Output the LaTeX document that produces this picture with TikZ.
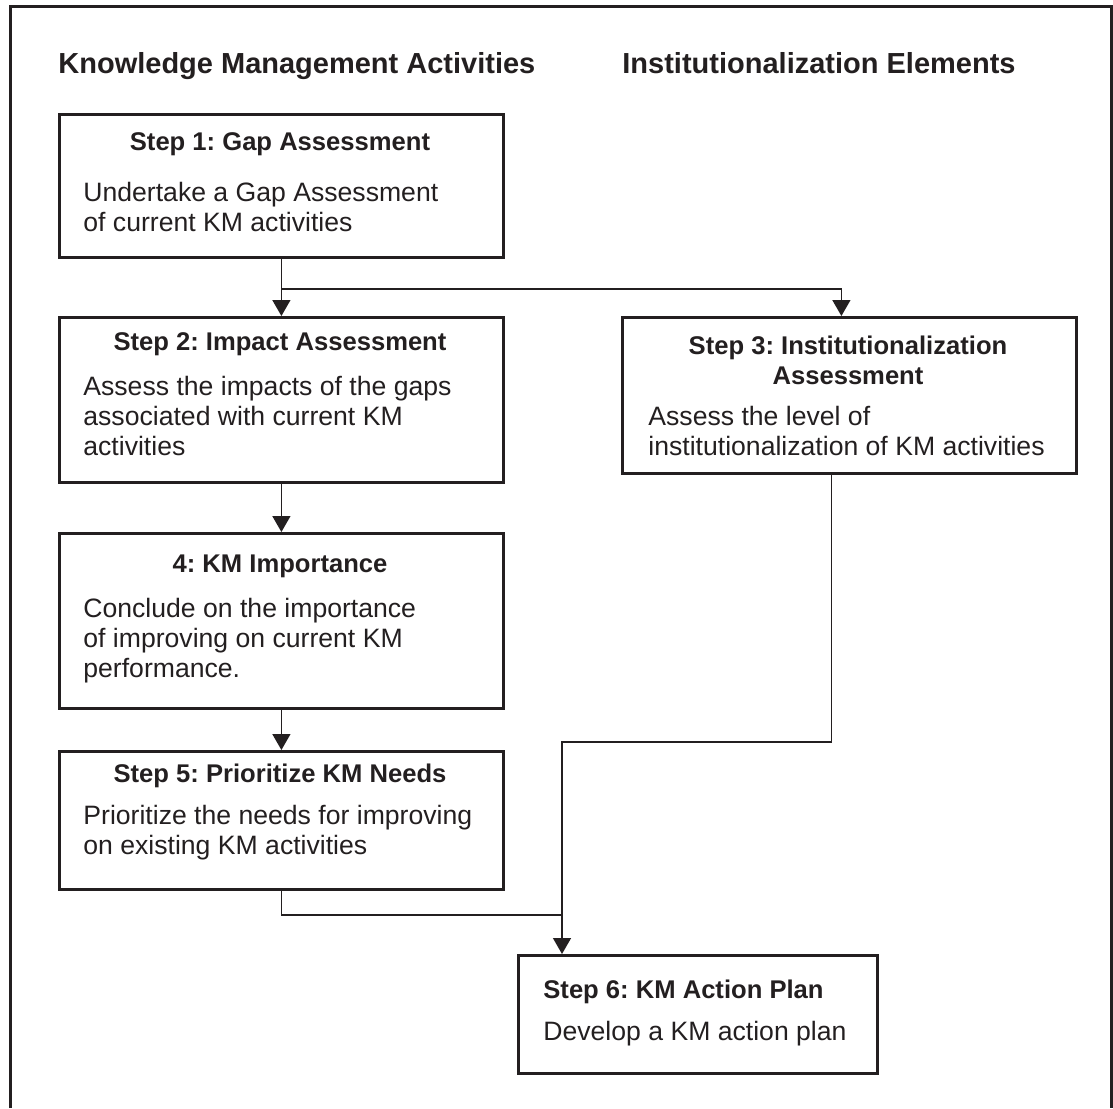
\documentclass[tikz,border=0pt]{standalone}
\usepackage{fontspec}
\setmainfont{Liberation Sans}
\usetikzlibrary{arrows.meta,calc}
\definecolor{ink}{HTML}{231F20}
\frenchspacing
\begin{document}
\begin{tikzpicture}[x=0.5pt,y=-0.5pt,
  box/.style={draw=ink, line width=1.4pt, anchor=north west, inner sep=0pt, minimum width=222pt},
  head/.style={anchor=base west, font=\fontsize{14.5}{17}\selectfont\bfseries, text=ink, inner sep=0pt},
  ttl/.style={anchor=base, font=\fontsize{12.8}{15}\selectfont\bfseries, text=ink, inner sep=0pt},
  body/.style={anchor=base west, font=\fontsize{13.3}{15}\selectfont, text=ink, inner sep=0pt},
  link/.style={draw=ink, line width=0.7pt},
  arr/.style={link, -{Triangle[length=8pt,width=9pt]}}]
\useasboundingbox (0,0) rectangle (1113,1108);
% outer frame
\draw[ink, line width=1.5pt] (10,1108) -- (10,6) -- (1111,6) -- (1111,1108);
% headers
\node[head] (h1) at (58,73) {Knowledge Management Activities};
\node[head] (h2) at (622,73) {Institutionalization Elements};
% Box 1
\node[box, minimum height=71.5pt] (b1) at (58,113) {};
\node[ttl] (b1t) at (280,150) {Step 1: Gap Assessment};
\node[body] (b1a) at (83,201) {Undertake a Gap Assessment};
\node[body] (b1b) at (83,231) {of current KM activities};
% Box 2
\node[box, minimum height=82.5pt] (b2) at (58,316) {};
\node[ttl] (b2t) at (280,350) {Step 2: Impact Assessment};
\node[body] (b2a) at (83,395) {Assess the impacts of the gaps};
\node[body] (b2b) at (83,425) {associated with current KM};
\node[body] (b2c) at (83,455) {activities};
% Box 3
\node[box, minimum width=227pt, minimum height=78pt] (b3) at (621,316) {};
\node[ttl] (b3t) at (848,354) {Step 3: Institutionalization};
\node[ttl] (b3u) at (848,384) {Assessment};
\node[body] (b3a) at (648,425) {Assess the level of};
\node[body] (b3b) at (648,455) {institutionalization of KM activities};
% Box 4
\node[box, minimum height=87.5pt] (b4) at (58,532) {};
\node[ttl] (b4t) at (280,572) {4: KM Importance};
\node[body] (b4a) at (83,617) {Conclude on the importance};
\node[body] (b4b) at (83,647) {of improving on current KM};
\node[body] (b4c) at (83,677) {performance.};
% Box 5
\node[box, minimum height=69pt] (b5) at (58,750) {};
\node[ttl] (b5t) at (280,782) {Step 5: Prioritize KM Needs};
\node[body] (b5a) at (83,824) {Prioritize the needs for improving};
\node[body] (b5b) at (83,854) {on existing KM activities};
% Box 6
\node[box, minimum width=179.5pt, minimum height=59pt] (b6) at (517,954) {};
\node[ttl, anchor=base west] (b6t) at (543,998) {Step 6: KM Action Plan};
\node[body] (b6a) at (543,1040) {Develop a KM action plan};
% connectors
\draw[arr] (b1.south) -- (b2.north);
\coordinate (j1) at ($(b1.south)+(0,30)$);
\coordinate (t3) at ($(b3.north)+(-8,0)$);
\draw[arr] (j1) -| (t3);
\draw[arr] (b2.south) -- (b4.north);
\draw[arr] (b4.south) -- (b5.north);
\coordinate (s3) at ($(b3.south)+(-18,0)$);
\coordinate (t6) at ($(b6.north west)+(45,0)$);
\coordinate (k3) at (t6 |- 0,742);
\draw[arr] (s3) |- (k3) -- (t6);
\coordinate (k5) at (t6 |- 0,915);
\draw[link] (b5.south) |- (k5);
\end{tikzpicture}
\end{document}
